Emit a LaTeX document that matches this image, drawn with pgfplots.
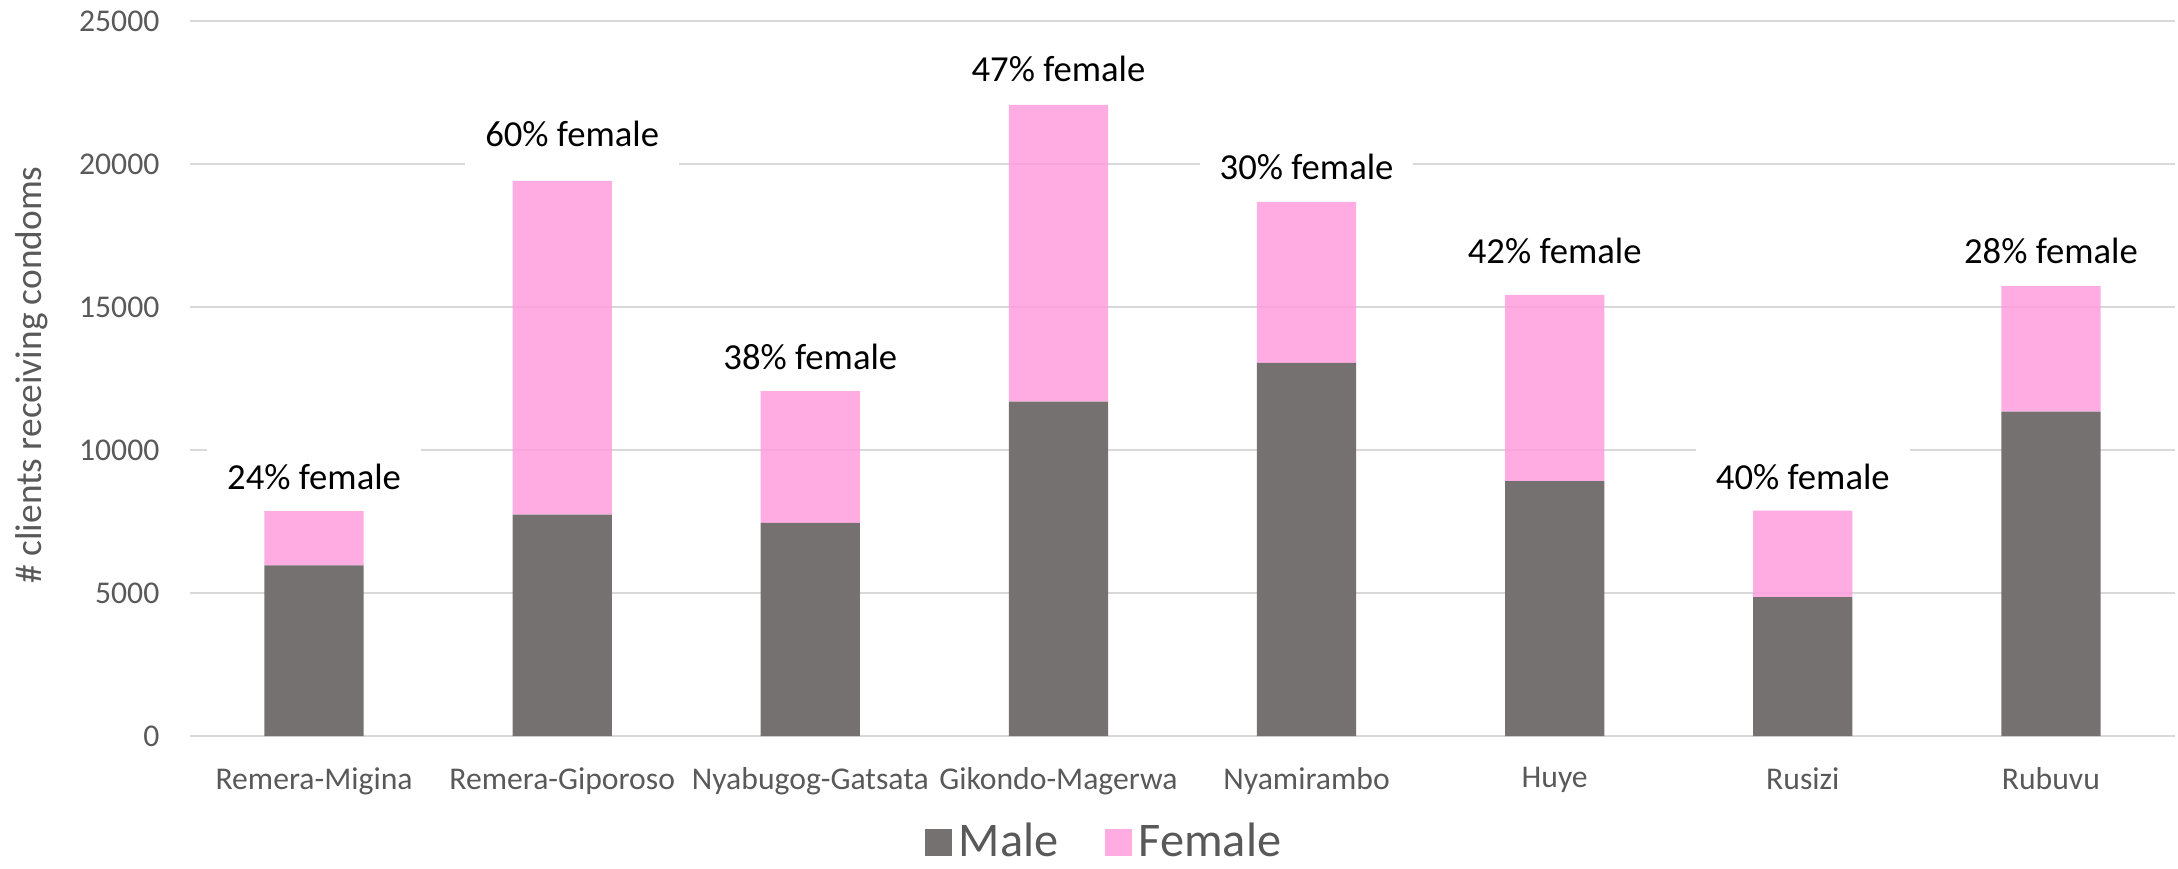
\documentclass[border=0pt]{standalone}
\usepackage{fontspec}
\setmainfont{Carlito}
\usepackage{pgfplots}
\pgfplotsset{compat=1.18}
\definecolor{male}{HTML}{767171}
\definecolor{female}{RGB}{255,157,222}
\definecolor{gridc}{HTML}{D9D9D9}
\definecolor{txt}{HTML}{595959}
\tikzset{lab/.style={font=\fontsize{11}{13}\selectfont, text=black, fill=white, inner xsep=6pt, inner ysep=5.6pt, anchor=center}}
\begin{document}
\begin{tikzpicture}
\useasboundingbox (0,0) rectangle (653.4pt,260.4pt);
\begin{axis}[
  at={(57pt,39.6pt)}, anchor=south west,
  width=595.5pt, height=214.5pt, scale only axis,
  ybar stacked, bar width=0.4,
  xmin=-0.5, xmax=7.5, ymin=0, ymax=25000,
  xtick={0,1,2,3,4,5,6,7},
  xticklabels={Remera-Migina,Remera-Giporoso,Nyabugog-Gatsata,Gikondo-Magerwa,Nyamirambo,Huye,Rusizi,Rubuvu},
  ytick={0,5000,10000,15000,20000,25000},
  ymajorgrids, grid style={gridc, line width=0.6pt},
  axis line style={draw=none},
  major tick length=0pt,
  scaled y ticks=false,
  /pgf/number format/1000 sep={},
  /pgf/number format/assume math mode=true,
  tick label style={font=\fontsize{9.5}{11}\selectfont, text=txt},
  yticklabel style={inner sep=0pt, xshift=-9pt},
  xticklabel style={inner sep=0pt, anchor=north, yshift=-9.3pt},
  ylabel={\# clients receiving condoms},
  ylabel style={at={(axis description cs:-0.0796,0.505)}, anchor=center, font=\fontsize{11.2}{13}\selectfont, text=txt},
  legend style={at={(axis description cs:0.4617,-0.149)}, anchor=center, draw=none, fill=none, legend columns=2, font=\fontsize{14.5}{16}\selectfont, text=txt, inner sep=0pt, /tikz/every even column/.append style={column sep=12pt}},
  legend image code/.code={\fill[#1] (0pt,-4pt) rectangle (8.1pt,4.1pt);},
]
\addplot[fill=male, draw=none] coordinates {
  (0,5970) (1,7740) (2,7450) (3,11690) (4,13050) (5,8910) (6,4860) (7,11340)};
\addlegendentry{Male}
\addplot[fill=female, fill opacity=0.85, draw=none] coordinates {
  (0,1890) (1,11670) (2,4610) (3,10380) (4,5630) (5,6510) (6,3020) (7,4390)};
\addlegendentry{Female}
\node[lab] at (axis cs:0,9050) {24\% female};
\node[lab] at (axis cs:1.04,21050) {60\% female};
\node[lab] at (axis cs:2,13260) {38\% female};
\node[lab] at (axis cs:3,23340) {47\% female};
\node[lab] at (axis cs:4,19890) {30\% female};
\node[lab] at (axis cs:5,16950) {42\% female};
\node[lab] at (axis cs:6,9050) {40\% female};
\node[lab] at (axis cs:7,16950) {28\% female};
\end{axis}
\end{tikzpicture}
\end{document}
